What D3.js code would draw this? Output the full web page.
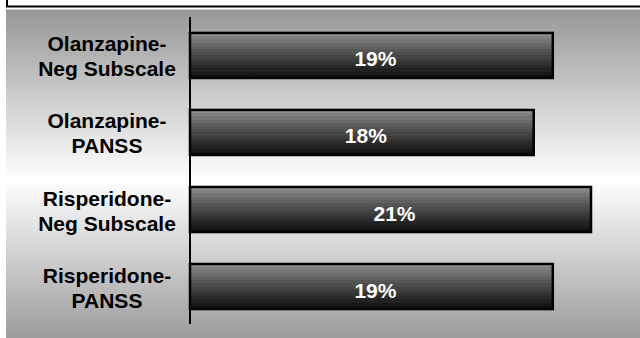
<!DOCTYPE html>
<html>
<head>
<meta charset="utf-8">
<script src="https://cdn.jsdelivr.net/npm/d3@7"></script>
<style>
  html, body { margin: 0; padding: 0; background: #fff; }
  svg { display: block; }
</style>
</head>
<body>
<svg id="chart" width="640" height="338"></svg>
<script>
// Category labels (two lines each) and percentage values
const categories = [
  ["Olanzapine-", "Neg Subscale"],
  ["Olanzapine-", "PANSS"],
  ["Risperidone-", "Neg Subscale"],
  ["Risperidone-", "PANSS"]
];
const values = [19, 18, 21, 19];
const valueLabels = ["19%", "18%", "21%", "19%"];

const svg = d3.select("#chart");
const W = 640, H = 338;
const defs = svg.append("defs");

// Panel background: grey at top and bottom, white through the middle
const bg = defs.append("linearGradient").attr("id", "bg")
  .attr("x1", 0).attr("y1", 0).attr("x2", 0).attr("y2", 1);
bg.append("stop").attr("offset", "0%").attr("stop-color", "#979797");
bg.append("stop").attr("offset", "52%").attr("stop-color", "#ffffff");
bg.append("stop").attr("offset", "100%").attr("stop-color", "#9c9c9c");

// Bar fill: stepped grey-to-black bands
const barGrad = defs.append("linearGradient").attr("id", "barfill")
  .attr("x1", 0).attr("y1", 0).attr("x2", 0).attr("y2", 1);
const nSteps = 14;
const shade = d3.interpolateRgb("#8e8e8e", "#101010");
d3.range(nSteps).forEach(i => {
  const c = shade(Math.pow(i / (nSteps - 1), 0.85));
  barGrad.append("stop").attr("offset", (i / nSteps * 100) + "%").attr("stop-color", c);
  barGrad.append("stop").attr("offset", ((i + 1) / nSteps * 100) + "%").attr("stop-color", c);
});

// Title strip at the top (white, black frame)
svg.append("rect")
  .attr("x", 7).attr("y", -10).attr("width", W + 10).attr("height", 16.5)
  .attr("fill", "#fff").attr("stroke", "#000").attr("stroke-width", 2);

// Grey plot panel
svg.append("rect")
  .attr("x", 6).attr("y", 9.5).attr("width", W - 6).attr("height", H - 9.5)
  .attr("fill", "url(#bg)");

// Scales
const x = d3.scaleLinear().domain([0, 21]).range([190, 591]);
const y = d3.scaleBand().domain(d3.range(categories.length))
  .range([17, 325]).paddingInner(0.415).paddingOuter(0.207);

// Bars
svg.append("g").selectAll("rect")
  .data(values)
  .join("rect")
  .attr("x", x(0))
  .attr("y", (d, i) => y(i))
  .attr("width", d => x(d) - x(0))
  .attr("height", y.bandwidth())
  .attr("fill", "url(#barfill)")
  .attr("stroke", "#000")
  .attr("stroke-width", 2.5);

// Value labels inside bars
svg.append("g").selectAll("text")
  .data(values)
  .join("text")
  .attr("x", d => (x(0) + x(d)) / 2 + 4)
  .attr("y", (d, i) => y(i) + y.bandwidth() / 2 + 11)
  .attr("text-anchor", "middle")
  .attr("fill", "#fff")
  .attr("font-family", "Liberation Sans, Arial, sans-serif")
  .attr("font-weight", "bold")
  .attr("font-size", 21)
  .text((d, i) => valueLabels[i]);

// Vertical category axis line
svg.append("line")
  .attr("x1", 190).attr("x2", 190)
  .attr("y1", 17).attr("y2", 324)
  .attr("stroke", "#000").attr("stroke-width", 2);

// Category labels, two lines each
const catG = svg.append("g").selectAll("text")
  .data(categories)
  .join("text")
  .attr("text-anchor", "middle")
  .attr("fill", "#000")
  .attr("font-family", "Liberation Sans, Arial, sans-serif")
  .attr("font-weight", "bold")
  .attr("font-size", 21);
catG.each(function(lines, i) {
  const cy = y(i) + y.bandwidth() / 2;
  d3.select(this).selectAll("tspan")
    .data(lines)
    .join("tspan")
    .attr("x", 107)
    .attr("y", (l, j) => cy - 4 + j * 25)
    .text(l => l);
});
</script>
</body>
</html>
